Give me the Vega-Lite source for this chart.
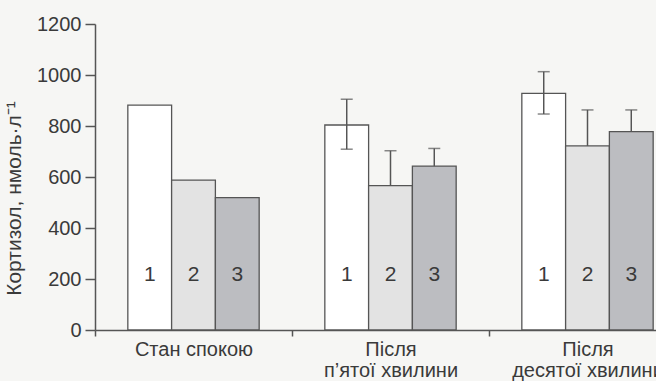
{
  "$schema": "https://vega.github.io/schema/vega-lite/v6.json",
  "autosize": "none",
  "width": 561,
  "height": 306,
  "padding": {"left": 95, "top": 24, "right": 0, "bottom": 51},
  "background": "#f6f6f4",
  "config": {
    "view": {"stroke": null},
    "font": "Liberation Sans",
    "axis": {"labelFont": "Liberation Sans", "titleFont": "Liberation Sans", "labelColor": "#3a3a3a", "titleColor": "#3a3a3a", "domainColor": "#555", "tickColor": "#555", "domainWidth": 1.5, "tickWidth": 1.5, "grid": false}
  },
  "data": {
    "values": [
      {"group": "Стан спокою", "s": "1", "v": 882},
      {"group": "Стан спокою", "s": "2", "v": 588},
      {"group": "Стан спокою", "s": "3", "v": 519},
      {"group": "Після|п’ятої хвилини", "s": "1", "v": 804, "hi": 905, "lo": 709, "locap": 709},
      {"group": "Після|п’ятої хвилини", "s": "2", "v": 566, "hi": 703, "lo": 566},
      {"group": "Після|п’ятої хвилини", "s": "3", "v": 643, "hi": 712, "lo": 643},
      {"group": "Після|десятої хвилини", "s": "1", "v": 928, "hi": 1013, "lo": 847, "locap": 847},
      {"group": "Після|десятої хвилини", "s": "2", "v": 722, "hi": 863, "lo": 722},
      {"group": "Після|десятої хвилини", "s": "3", "v": 778, "hi": 863, "lo": 778}
    ]
  },
  "encoding": {
    "x": {
      "field": "group", "type": "nominal",
      "sort": ["Стан спокою", "Після|п’ятої хвилини", "Після|десятої хвилини"],
      "scale": {"paddingInner": 0, "paddingOuter": 0, "range": [0, 591]},
      "axis": {"title": null, "labelAngle": 0, "labelExpr": "split(datum.label, '|')", "labelFontSize": 20, "labelLineHeight": 21, "labelPadding": 3, "tickBand": "extent", "tickSize": 6, "labelBaseline": "top"}
    },
    "xOffset": {"field": "s", "type": "nominal", "scale": {"paddingInner": 0, "paddingOuter": 0.75}}
  },
  "layer": [
    {
      "mark": {"type": "bar", "stroke": "#555", "strokeWidth": 1.3},
      "encoding": {
        "y": {
          "field": "v", "type": "quantitative",
          "scale": {"domain": [0, 1200], "nice": false},
          "axis": {"values": [0, 200, 400, 600, 800, 1000, 1200], "format": "d", "labelFontSize": 20, "tickSize": 10, "labelPadding": 4, "title": "Кортизол, нмоль·л⁻¹", "titleFontSize": 21, "titleFontWeight": "normal", "titleX": -71, "titleY": 174, "titleAngle": -90, "titleAlign": "center"}
        },
        "fill": {"field": "s", "type": "nominal", "scale": {"domain": ["1", "2", "3"], "range": ["#ffffff", "#e3e3e3", "#bcbdc1"]}, "legend": null}
      }
    },
    {
      "mark": {"type": "rule", "color": "#555", "strokeWidth": 1.5},
      "encoding": {"y": {"field": "hi", "type": "quantitative"}, "y2": {"field": "lo"}}
    },
    {
      "mark": {"type": "tick", "color": "#555", "thickness": 1.5, "size": 12},
      "encoding": {"y": {"field": "hi", "type": "quantitative"}}
    },
    {
      "mark": {"type": "tick", "color": "#555", "thickness": 1.5, "size": 12},
      "encoding": {"y": {"field": "locap", "type": "quantitative"}}
    },
    {
      "mark": {"type": "text", "fontSize": 21, "color": "#3a3a3a", "baseline": "middle"},
      "encoding": {"y": {"datum": 216}, "text": {"field": "s"}}
    }
  ]
}
